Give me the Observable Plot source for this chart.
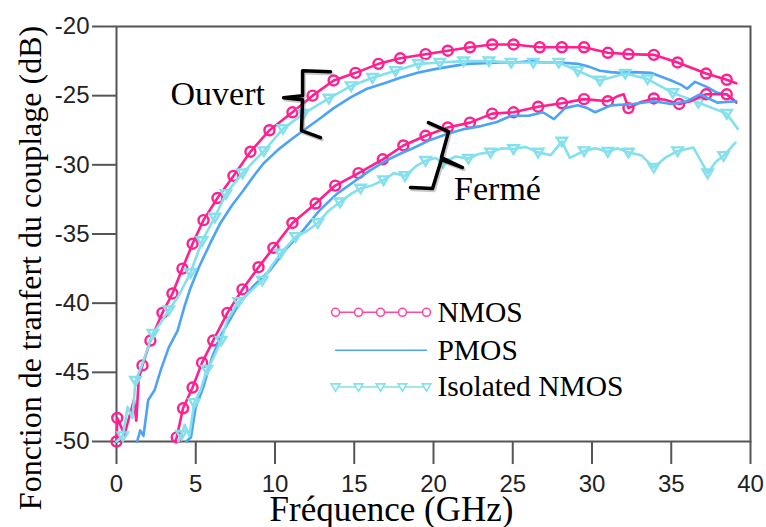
<!DOCTYPE html>
<html>
<head>
<meta charset="utf-8">
<script src="https://cdn.jsdelivr.net/npm/d3@7"></script>
<script src="https://cdn.jsdelivr.net/npm/@observablehq/plot@0.6"></script>
<style>
  html, body { margin: 0; padding: 0; background: #fff; }
  #chart { width: 766px; height: 527px; }
</style>
</head>
<body>
<div id="chart"></div>
<script>
// Coupling transfer function (dB) versus frequency (GHz), [frequency, dB] pairs.
// "Ouvert" (open) group
const nmosOpen = [[0.0,-50],[0.05,-48.3],[0.5,-49.5],[1.1,-47.0],[1.25,-48.5],[1.4,-45.5],[1.64,-44.5],[2.14,-42.7],[2.9,-40.7],[3.53,-39.3],[4.16,-37.5],[4.8,-35.7],[5.49,-34.0],[6.37,-32.4],[7.38,-30.8],[8.45,-29.05],[9.65,-27.5],[11.1,-26.2],[12.37,-25.0],[13.7,-23.9],[15.08,-23.35],[16.53,-22.7],[17.9,-22.3],[19.5,-22.0],[20.9,-21.75],[22.3,-21.5],[23.7,-21.3],[25.05,-21.3],[26.7,-21.5],[28.1,-21.5],[29.5,-21.5],[31.0,-21.9],[32.3,-22.0],[33.9,-22.05],[35.4,-22.6],[37.2,-23.4],[38.5,-23.85],[39.1,-24.1]];
const nmosOpenMarks = [[0.0,-50],[0.05,-48.3],[1.64,-44.5],[2.14,-42.7],[2.9,-40.7],[3.53,-39.3],[4.16,-37.5],[4.8,-35.7],[5.49,-34.0],[6.37,-32.4],[7.38,-30.8],[8.45,-29.05],[9.65,-27.5],[11.1,-26.2],[12.37,-25.0],[13.7,-23.9],[15.08,-23.35],[16.53,-22.7],[17.9,-22.3],[19.5,-22.0],[20.9,-21.75],[22.3,-21.5],[23.7,-21.3],[25.05,-21.3],[26.7,-21.5],[28.1,-21.5],[29.5,-21.5],[31.0,-21.9],[32.3,-22.0],[33.9,-22.05],[35.4,-22.6],[37.2,-23.4],[38.5,-23.85]];
const pmosOpen = [[1.3,-50],[1.5,-49.2],[1.7,-49.6],[2.0,-47.0],[2.4,-46.3],[2.8,-44.8],[3.3,-43.2],[3.85,-42.0],[4.3,-40.2],[4.67,-38.9],[5.2,-37.4],[5.9,-35.7],[6.56,-34.2],[7.3,-32.9],[8.0,-31.85],[8.6,-30.9],[9.27,-29.9],[10.2,-28.9],[11.1,-28.1],[12.05,-27.3],[12.9,-26.6],[13.7,-25.9],[14.8,-25.1],[15.8,-24.5],[16.9,-24.1],[17.9,-23.7],[19.0,-23.35],[20.0,-23.1],[21.0,-22.9],[22.1,-22.7],[23.2,-22.65],[24.2,-22.6],[25.2,-22.6],[26.1,-22.5],[26.9,-22.6],[28.0,-22.6],[29.1,-22.7],[29.8,-22.9],[30.5,-23.2],[31.2,-23.3],[31.8,-23.35],[32.7,-23.3],[33.7,-23.35],[34.3,-23.6],[35.0,-23.9],[35.6,-24.2],[36.0,-24.5],[36.5,-24.0],[36.8,-24.15],[37.3,-24.4],[37.9,-24.8],[38.5,-24.9],[39.05,-25.4]];
const isoOpen = [[0.0,-50],[0.4,-49.6],[0.7,-47.5],[1.0,-48.3],[1.2,-45.6],[1.6,-44.5],[1.9,-43.5],[2.3,-42.2],[2.8,-41.4],[3.3,-40.5],[3.9,-39.5],[4.67,-37.8],[5.4,-35.5],[6.2,-33.8],[6.9,-32.1],[7.95,-30.6],[9.3,-29.0],[10.5,-27.4],[11.8,-26.3],[13.4,-25.2],[14.8,-24.3],[16.15,-23.7],[17.6,-23.2],[19.05,-22.7],[20.4,-22.6],[21.9,-22.5],[23.5,-22.5],[24.9,-22.6],[26.3,-22.6],[27.9,-22.6],[29.1,-23.2],[30.5,-23.9],[32.1,-23.4],[33.5,-23.8],[35.1,-24.8],[36.7,-25.5],[38.5,-26.3],[39.2,-27.4]];
const isoOpenMarks = [[0.4,-49.6],[1.2,-45.6],[2.3,-42.2],[3.3,-40.5],[4.67,-37.8],[5.4,-35.5],[6.2,-33.8],[6.9,-32.1],[7.95,-30.6],[9.3,-29.0],[10.5,-27.4],[11.8,-26.3],[13.4,-25.2],[14.8,-24.3],[16.15,-23.7],[17.6,-23.2],[19.05,-22.7],[20.4,-22.6],[21.9,-22.5],[23.5,-22.5],[24.9,-22.6],[26.3,-22.6],[27.9,-22.6],[29.1,-23.2],[30.5,-23.9],[32.1,-23.4],[33.5,-23.8],[35.1,-24.8],[36.7,-25.5],[38.5,-26.3]];

// "Fermé" (closed) group
const nmosClosed = [[3.7,-50.0],[3.8,-49.7],[4.2,-47.6],[4.8,-46.1],[5.4,-44.3],[6.1,-42.7],[7.0,-40.7],[7.95,-39.0],[8.96,-37.4],[9.9,-36.0],[11.1,-34.2],[12.56,-32.8],[13.8,-31.5],[15.27,-30.6],[16.8,-29.6],[18.1,-28.6],[19.5,-27.9],[20.9,-27.3],[22.3,-26.95],[23.7,-26.3],[25.05,-26.2],[26.6,-25.8],[28.1,-25.55],[29.5,-25.25],[31.0,-25.4],[31.7,-25.0],[32.0,-24.9],[32.3,-25.9],[33.0,-25.5],[33.9,-25.2],[34.6,-25.3],[35.5,-25.6],[36.2,-25.4],[37.2,-24.9],[38.5,-24.9],[39.1,-25.5]];
const nmosClosedMarks = [[3.8,-49.7],[4.2,-47.6],[4.8,-46.1],[5.4,-44.3],[6.1,-42.7],[7.0,-40.7],[7.95,-39.0],[8.96,-37.4],[9.9,-36.0],[11.1,-34.2],[12.56,-32.8],[13.8,-31.5],[15.27,-30.6],[16.8,-29.6],[18.1,-28.6],[19.5,-27.9],[20.9,-27.3],[22.3,-26.95],[23.7,-26.3],[25.05,-26.2],[26.6,-25.8],[28.1,-25.55],[29.5,-25.25],[31.0,-25.4],[32.3,-25.9],[33.9,-25.2],[35.5,-25.6],[37.2,-24.9],[38.5,-24.9]];
const pmosClosed = [[4.4,-50],[4.7,-49.7],[5.0,-47.5],[5.5,-46.0],[6.0,-44.0],[6.6,-42.3],[7.6,-40.3],[8.6,-38.8],[9.7,-37.6],[10.7,-36.1],[11.8,-34.7],[12.8,-33.3],[13.9,-32.1],[15.0,-31.2],[16.0,-30.4],[17.0,-29.7],[17.9,-29.2],[18.7,-28.8],[19.8,-28.2],[20.9,-27.75],[22.0,-27.4],[23.0,-27.2],[24.0,-26.9],[24.9,-26.45],[26.0,-26.45],[26.9,-26.2],[27.6,-26.7],[28.3,-25.9],[29.1,-25.7],[29.7,-25.9],[30.2,-26.2],[31.2,-25.7],[32.6,-25.6],[33.9,-25.4],[35.0,-25.6],[36.0,-25.4],[36.8,-24.9],[37.9,-25.5],[39.1,-25.4]];
const isoClosed = [[3.9,-50],[4.1,-49.5],[4.3,-48.8],[4.6,-49.6],[4.9,-47.2],[5.3,-46.3],[5.7,-44.8],[6.1,-44.0],[6.6,-42.7],[7.0,-41.2],[7.7,-39.9],[8.4,-39.2],[9.2,-38.35],[9.8,-37.3],[10.35,-36.4],[11.3,-35.2],[12.0,-34.8],[12.7,-34.2],[13.4,-33.3],[14.1,-32.7],[14.8,-32.1],[15.4,-31.7],[16.1,-31.5],[16.85,-31.1],[17.5,-30.6],[18.2,-30.8],[18.9,-30.1],[19.5,-29.7],[20.1,-29.5],[20.6,-29.85],[21.4,-29.4],[22.2,-29.55],[22.9,-29.2],[23.6,-29.1],[24.3,-28.8],[25.05,-28.85],[25.8,-28.7],[26.6,-29.1],[27.4,-29.3],[28.1,-28.3],[28.6,-29.5],[29.5,-29.0],[30.2,-28.8],[31.0,-29.05],[31.6,-28.8],[32.3,-29.1],[33.1,-29.3],[33.9,-30.2],[34.6,-29.5],[35.4,-29.0],[36.4,-28.75],[37.3,-30.6],[37.8,-29.8],[38.3,-29.35],[39.05,-28.4]];
const isoClosedMarks = [[4.1,-49.5],[4.9,-47.2],[5.7,-44.8],[6.6,-42.7],[7.7,-39.9],[9.2,-38.35],[10.35,-36.4],[11.3,-35.2],[12.7,-34.2],[14.1,-32.7],[15.4,-31.7],[16.85,-31.1],[18.2,-30.8],[19.5,-29.7],[20.6,-29.85],[22.2,-29.55],[23.6,-29.1],[25.05,-28.85],[26.6,-29.1],[28.1,-28.3],[29.5,-29.0],[31.0,-29.05],[32.3,-29.1],[33.9,-30.2],[35.4,-29.0],[37.3,-30.6],[38.3,-29.35]];

// Axis ticks and labels
const xTicks = [0, 5, 10, 15, 20, 25, 30, 35, 40];
const yTicks = [-50, -45, -40, -35, -30, -25, -20];
const xTitle = "Fréquence (GHz)";
const yTitle = "Fonction de tranfert du couplage (dB)";
const seriesNames = ["NMOS", "PMOS", "Isolated NMOS"];

// Group annotations: label text and brace outline, in chart units
const groupLabels = [
  {f: 3.41, db: -24.87, text: "Ouvert"},
  {f: 21.3, db: -31.74, text: "Fermé"}
];
const braceOpen = [[13.5,-23.27],[11.74,-23.2],[11.74,-25.0],[10.54,-25.15],[11.74,-25.29],[11.67,-27.53],[12.87,-28.03]];
const braceClosed = [[19.68,-26.95],[20.95,-27.6],[20.5,-29.47],[21.83,-30.2],[20.5,-29.62],[19.94,-31.71],[18.55,-31.64]];

// Legend layout, in chart units
const legendDb = [-40.66, -43.4, -46.06];
const legendSwatchF = [13.82, 15.27, 16.66, 18.04, 19.56];
const legendTextF = 20.25;

const colors = {NMOS: "#ff1f8e", PMOS: "#4ea3f5", "Isolated NMOS": "#84e0ec"};
const legendColors = {NMOS: "#ff4aa2", PMOS: "#4ea3f5", "Isolated NMOS": "#84e0ec"};

const rows = (pts) => pts.map(([f, db]) => ({f, db}));

// Downward-pointing open triangle
const triangleDown = {
  draw(context, size) {
    const r = Math.sqrt(size / Math.PI);
    context.moveTo(-r, -0.7 * r);
    context.lineTo(r, -0.7 * r);
    context.lineTo(0, 0.95 * r);
    context.closePath();
  }
};

const serif = "'Liberation Serif', 'Times New Roman', Times, serif";
const sans = "'Liberation Sans', Arial, Helvetica, sans-serif";

const lineOpts = (color) => ({x: "f", y: "db", stroke: color, strokeWidth: 2.6, strokeLinejoin: "round", strokeLinecap: "round"});
const circleOpts = {x: "f", y: "db", r: 5, stroke: colors.NMOS, strokeWidth: 2.4, fill: "none"};
const triOpts = {x: "f", y: "db", r: 5.2, symbol: triangleDown, stroke: colors["Isolated NMOS"], strokeWidth: 2.4, fill: "none"};
const braceStyle = {x: "f", y: "db", strokeWidth: 3.5, strokeLinejoin: "round", strokeLinecap: "round"};

const legendLines = seriesNames.map((name, i) => legendSwatchF.map(f => ({f, db: legendDb[i], name})));
const legendText = seriesNames.map((name, i) => ({f: legendTextF, db: legendDb[i], name}));

const chart = Plot.plot({
  width: 766,
  height: 527,
  marginLeft: 116,
  marginRight: 16,
  marginTop: 26,
  marginBottom: 86,
  style: {fontFamily: sans, fontSize: "24px", color: "#222", background: "#fff", overflow: "visible"},
  x: {domain: [0, 40]},
  y: {domain: [-50, -20]},
  marks: [
    Plot.frame({stroke: "#555", strokeWidth: 2}),
    Plot.axisX({ticks: xTicks, tickSize: 23, tickPadding: 10, tickFormat: d => String(d), label: null, stroke: "#555", strokeWidth: 2, fontSize: 24, fill: "#222"}),
    Plot.axisY({ticks: yTicks, tickSize: 24, tickPadding: 3, tickFormat: d => String(d), label: null, stroke: "#555", strokeWidth: 2, fontSize: 24, fill: "#222"}),

    // open group
    Plot.line(rows(nmosOpen), lineOpts(colors.NMOS)),
    Plot.dot(rows(nmosOpenMarks), circleOpts),
    Plot.line(rows(pmosOpen), lineOpts(colors.PMOS)),
    Plot.line(rows(isoOpen), lineOpts(colors["Isolated NMOS"])),
    Plot.dot(rows(isoOpenMarks), triOpts),

    // closed group
    Plot.line(rows(nmosClosed), lineOpts(colors.NMOS)),
    Plot.dot(rows(nmosClosedMarks), circleOpts),
    Plot.line(rows(pmosClosed), lineOpts(colors.PMOS)),
    Plot.line(rows(isoClosed), lineOpts(colors["Isolated NMOS"])),
    Plot.dot(rows(isoClosedMarks), triOpts),

    // braces with a soft shadow
    Plot.line(rows(braceOpen), {...braceStyle, stroke: "#888", strokeOpacity: 0.45, dx: 1.5, dy: 2}),
    Plot.line(rows(braceClosed), {...braceStyle, stroke: "#888", strokeOpacity: 0.45, dx: 1.5, dy: 2}),
    Plot.line(rows(braceOpen), {...braceStyle, stroke: "#000"}),
    Plot.line(rows(braceClosed), {...braceStyle, stroke: "#000"}),
    Plot.text(groupLabels, {x: "f", y: "db", text: "text", textAnchor: "start", lineAnchor: "middle", fontFamily: serif, fontSize: 34, fill: "#000"}),

    // legend
    ...legendLines.map((pts, i) => Plot.line(pts, {x: "f", y: "db", stroke: legendColors[seriesNames[i]], strokeWidth: 1.6})),
    Plot.dot(legendLines[0], {x: "f", y: "db", r: 4, stroke: legendColors.NMOS, strokeWidth: 1.6, fill: "#fff"}),
    Plot.dot(legendLines[2], {x: "f", y: "db", r: 4.4, symbol: triangleDown, stroke: legendColors["Isolated NMOS"], strokeWidth: 1.6, fill: "#fff"}),
    Plot.text(legendText, {x: "f", y: "db", text: "name", textAnchor: "start", lineAnchor: "middle", fontFamily: serif, fontSize: 29.5, fill: "#000"}),

    // axis titles
    Plot.text([xTitle], {frameAnchor: "bottom", text: d => d, textAnchor: "middle", lineAnchor: "bottom", dx: -42, dy: 79, fontFamily: serif, fontSize: 35, fill: "#000"}),
    Plot.text([yTitle], {frameAnchor: "left", text: d => d, rotate: -90, textAnchor: "middle", lineAnchor: "bottom", dx: -76, dy: 34, fontFamily: serif, fontSize: 32, fill: "#000"})
  ]
});

document.getElementById("chart").appendChild(chart);
</script>
</body>
</html>
